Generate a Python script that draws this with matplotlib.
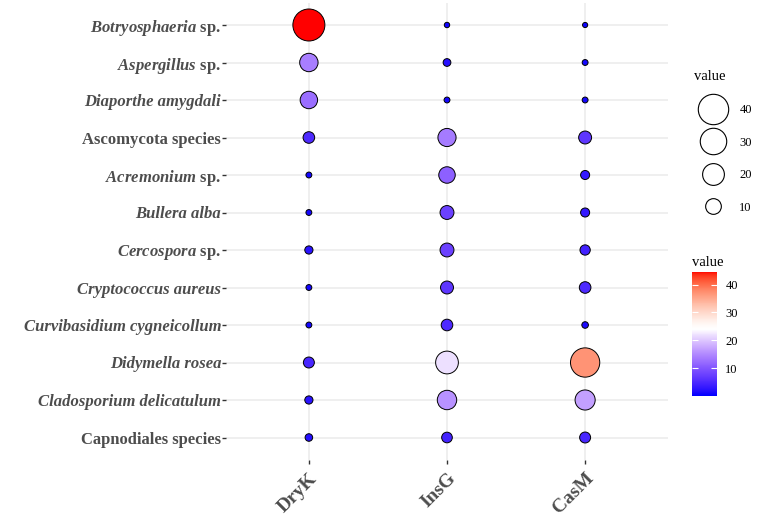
import numpy as np
import matplotlib
matplotlib.use("Agg")
import matplotlib.pyplot as plt
from matplotlib.colors import ListedColormap, Normalize
from matplotlib.cm import ScalarMappable
from matplotlib.lines import Line2D

plt.rcParams['font.family'] = ['Liberation Serif', 'DejaVu Serif']
plt.rcParams['mathtext.fontset'] = 'custom'
plt.rcParams['mathtext.rm'] = 'Liberation Serif:bold'
plt.rcParams['mathtext.it'] = 'Liberation Serif:italic:bold'

# data (top row first)
species = ['Botryosphaeria sp.', 'Aspergillus sp.', 'Diaporthe amygdali',
           'Ascomycota species', 'Acremonium sp.', 'Bullera alba', 'Cercospora sp.',
           'Cryptococcus aureus', 'Curvibasidium cygneicollum', 'Didymella rosea',
           'Cladosporium delicatulum', 'Capnodiales species']
# 'all' = whole name italic, 'genus' = genus italic + " sp.", '' = upright
italic = ['genus', 'genus', 'all', '', 'genus', 'all', 'genus',
          'all', 'all', 'all', 'all', '']
samples = ['DryK', 'InsG', 'CasM']
dryk = [44.5, 14.0, 12.5, 5.2, 1.1, 1.1, 2.4, 1.1, 1.1, 4.6, 2.4, 2.0]
insg = [0.9, 2.1, 1.1, 13.6, 11.1, 7.7, 7.7, 6.6, 5.2, 21.9, 15.7, 4.3]
casm = [0.8, 1.1, 1.1, 6.6, 3.0, 3.0, 4.0, 5.2, 1.45, 37.0, 16.9, 4.6]
size_breaks = [40, 30, 20, 10]
cbar_ticks = [10, 20, 30, 40]

vals = np.array([dryk, insg, casm])          # shape (3, 12)
n = len(species)
vmax = vals.max()
vmid = 24


# blue-white-red gradient, interpolated in Lab space (like ggplot's gradient2)
M = np.array([[0.4124, 0.3576, 0.1805], [0.2126, 0.7152, 0.0722], [0.0193, 0.1192, 0.9505]])
WHITE = np.array([0.95047, 1.0, 1.08883])

def to_lab(rgb):
    c = np.asarray(rgb, float)
    c = np.where(c <= 0.04045, c / 12.92, ((c + 0.055) / 1.055) ** 2.4)
    xyz = M @ c / WHITE
    f = np.where(xyz > 0.008856, np.cbrt(xyz), 7.787 * xyz + 16 / 116)
    return np.array([116 * f[1] - 16, 500 * (f[0] - f[1]), 200 * (f[1] - f[2])])

def to_rgb(lab):
    fy = (lab[0] + 16) / 116
    f = np.array([fy + lab[1] / 500, fy, fy - lab[2] / 200])
    xyz = np.where(f ** 3 > 0.008856, f ** 3, (f - 16 / 116) / 7.787) * WHITE
    c = np.clip(np.linalg.solve(M, xyz), 0, 1)
    return np.where(c <= 0.0031308, 12.92 * c, 1.055 * c ** (1 / 2.4) - 0.055)

blue, white, red = to_lab([0, 0, 1]), to_lab([1, 1, 1]), to_lab([1, 0, 0])
m = vmid / vmax
cols = []
for p in np.linspace(0, 1, 256):
    if p < m:
        lab = blue + (white - blue) * (p / m) ** 1.5
    else:
        lab = white + (red - white) * ((p - m) / (1 - m)) ** 1.3
    cols.append(np.clip(to_rgb(lab), 0, 1))
cmap = ListedColormap(cols)
norm = Normalize(0, vmax)


def bubble(v):
    # diameter in px -> marker area in pt^2
    d = 1 + 31 * np.sqrt(np.asarray(v) / vmax)
    return (d * 0.72) ** 2


fig = plt.figure(figsize=(7.68, 5.26), dpi=100)
ax = fig.add_axes([226 / 768, 1 - 460 / 526, 442 / 768, 457.5 / 526])

xx, yy = np.meshgrid(np.arange(len(samples)), np.arange(n)[::-1], indexing='ij')
ax.scatter(xx.ravel(), yy.ravel(), s=bubble(vals.ravel()), c=vals.ravel(),
           cmap=cmap, norm=norm, edgecolors='black', linewidths=0.7, zorder=3)

ax.set_xlim(-0.6, len(samples) - 0.4)
ax.set_ylim(-0.6, n - 0.4)
ax.set_xticks(range(len(samples)))
ax.set_xticklabels(samples, rotation=45, ha='right', va='top', rotation_mode='anchor',
                   fontsize=14, fontweight='bold', color='#4D4D4D')

labels = []
for name, it in zip(species, italic):
    if it == 'genus':
        genus, rest = name.split(' ', 1)
        name = r'$\mathit{%s}$ %s' % (genus, rest)
    labels.append(name)
ax.set_yticks(range(n))
ax.set_yticklabels(labels[::-1], fontsize=12, fontweight='bold', color='#4D4D4D')
for lab, it in zip(ax.get_yticklabels(), italic[::-1]):
    if it == 'all':
        lab.set_fontstyle('italic')
ax.tick_params(axis='both', length=3, width=1, color='#333333', pad=0.5)
ax.tick_params(axis='x', pad=4)
ax.grid(True, color='#EBEBEB', linewidth=1.1, zorder=0)
ax.set_axisbelow(True)
for s in ax.spines.values():
    s.set_visible(False)

# size legend
handles = [Line2D([], [], marker='o', linestyle='', markersize=np.sqrt(bubble(b)),
                  markerfacecolor='white', markeredgecolor='black', markeredgewidth=0.8)
           for b in size_breaks]
fig.legend(handles, [str(b) for b in size_breaks], title='value', loc='upper left',
           bbox_to_anchor=(688 / 768, 1 - 64 / 526), frameon=False, fontsize=9,
           title_fontsize=10.5, labelspacing=1.65, handlelength=3.0, handletextpad=0.6,
           borderpad=0, alignment='left')

# colour bar
cax = fig.add_axes([692 / 768, 1 - 396 / 526, 25 / 768, 124 / 526])
cb = fig.colorbar(ScalarMappable(norm=norm, cmap=cmap), cax=cax, ticks=cbar_ticks)
cb.outline.set_visible(False)
cax.tick_params(direction='in', length=4, width=0.8, color='white', labelsize=9,
                left=True, right=True, pad=6)
cax.set_title('value', loc='left', fontsize=10.5, pad=4)

fig.savefig('out.png', dpi=100)
